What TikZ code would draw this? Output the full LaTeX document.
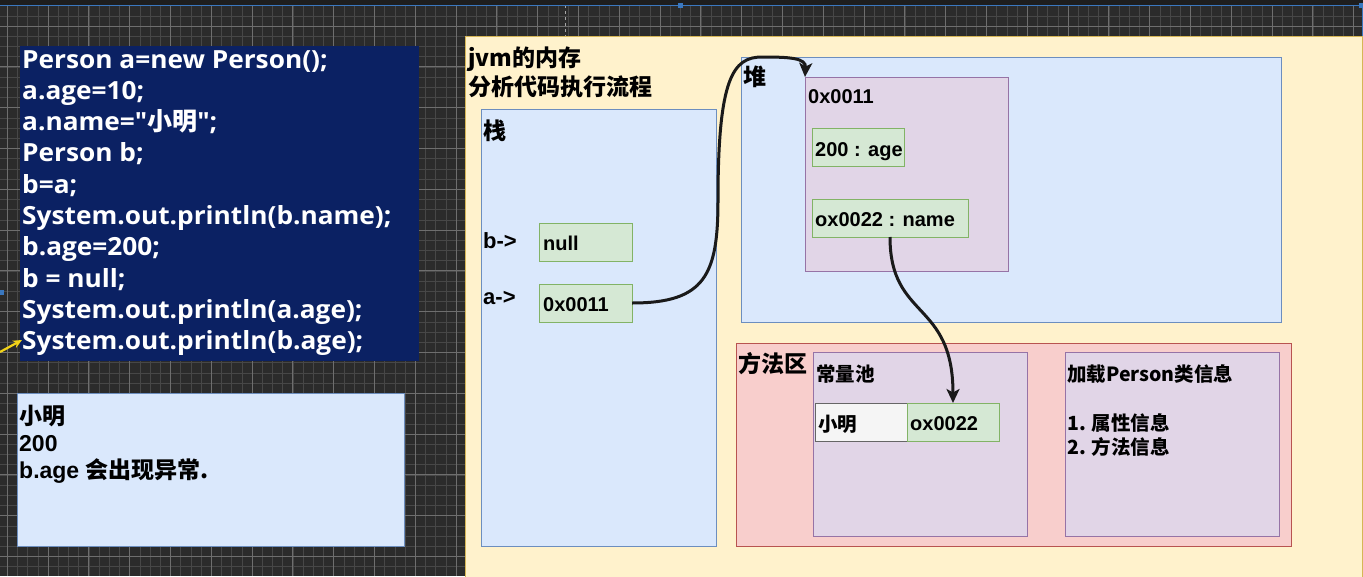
\documentclass[tikz,border=0pt]{standalone}
\usepackage{fontspec}
\setmainfont{Liberation Sans}
\newfontfamily\codefont{Open Sans}[FakeStretch=1.05]
\newfontfamily\cjk{Noto Sans CJK SC}
\usetikzlibrary{arrows.meta}
\definecolor{bgdark}{HTML}{2B2B2B}
\definecolor{topdark}{HTML}{1E1E1E}
\definecolor{gminorc}{HTML}{474747}
\definecolor{gmajorc}{HTML}{6E6E6E}
\definecolor{selblue}{HTML}{3A78C0}
\definecolor{codeblue}{HTML}{0B2163}
\definecolor{fyellow}{HTML}{FFF2CC}
\definecolor{syellow}{HTML}{D6B656}
\definecolor{fblue}{HTML}{DAE8FC}
\definecolor{sblue}{HTML}{6C8EBF}
\definecolor{fgreen}{HTML}{D5E8D4}
\definecolor{sgreen}{HTML}{82B366}
\definecolor{fpurple}{HTML}{E1D5E7}
\definecolor{spurple}{HTML}{9673A6}
\definecolor{fred}{HTML}{F8CECC}
\definecolor{sred}{HTML}{B85450}
\definecolor{fgray}{HTML}{F5F5F5}
\definecolor{sgray}{HTML}{666666}
\definecolor{inkc}{HTML}{1A1A1A}
\definecolor{cursorc}{HTML}{F2D318}
\tikzset{
  gminor/.style={draw=gminorc, line width=0.6pt},
  gmajor/.style={draw=gmajorc, line width=0.8pt},
  cell/.style={anchor=north west, inner sep=0pt, outer sep=0pt, line width=1pt},
  yellowbox/.style={cell, draw=syellow, fill=fyellow},
  bluebox/.style={cell, draw=sblue, fill=fblue},
  greenbox/.style={cell, draw=sgreen, fill=fgreen},
  purplebox/.style={cell, draw=spurple, fill=fpurple},
  redbox/.style={cell, draw=sred, fill=fred},
  graybox/.style={cell, draw=sgray, fill=fgray},
  codebox/.style={cell, fill=codeblue},
  txt/.style={anchor=base west, inner sep=0pt, text=black, font=\fontsize{20}{24}\selectfont\bfseries},
  txtbig/.style={txt, font=\fontsize{22}{26}\selectfont\bfseries},
  cjktxt/.style={txt, font=\cjk\fontsize{19.5}{24}\selectfont\bfseries},
  cjkbig/.style={txt, font=\cjk\fontsize{23}{27}\selectfont\bfseries},
  outtxt/.style={txt, font=\fontsize{23}{27}\selectfont\bfseries},
  codetxt/.style={anchor=base west, inner sep=0pt, text=white, font=\codefont\fontsize{25}{30}\selectfont\bfseries},
  link/.style={draw=inkc, line width=3pt, -{Stealth[length=14pt,width=13pt,inset=3.5pt]}},
  cursor/.style={draw=cursorc, line width=2.2pt, -{Stealth[length=9pt,width=8pt]}},
  handle/.style={fill=selblue, minimum size=5pt, inner sep=0pt, outer sep=0pt}
}
\begin{document}
\begin{tikzpicture}[x=1pt,y=-1pt]
\useasboundingbox (0,0) rectangle (1363,576);
\clip (0,0) rectangle (1363,576);
% canvas with grid
\fill[bgdark] (0,0) rectangle (1363,576);
\foreach \i in {0,...,134} \draw[gminor] ({7.2+\i*10.2},5) -- ({7.2+\i*10.2},576);
\foreach \j in {1,...,56} \draw[gminor] (0,{5.6+\j*10.2}) -- (1363,{5.6+\j*10.2});
\foreach \i in {0,...,33} \draw[gmajor] ({7.2+\i*40.8},5) -- ({7.2+\i*40.8},576);
\foreach \j in {0,...,13} \draw[gmajor] (0,{26+\j*40.8}) -- (1363,{26+\j*40.8});
\fill[topdark] (0,0) rectangle (1363,4.5);
\draw[draw=gray!70, dashed, line width=0.8pt] (565,5) -- (565,36);
% selection outline
\draw[selblue, line width=0.8pt] (0,5) -- (1362,5) -- (1362,576);
\node[handle] (h1) at (680,5) {};
\node[handle] (h2) at (1361,5) {};
\node[handle] (h3) at (1361,292) {};
\node[handle] (h4) at (1,292) {};
% code box
\node[codebox, minimum width=399, minimum height=315] (code) at (20,46) {};
\node[codetxt] (c0) at (22,68.0) {Person a=new Person();};
\node[codetxt] (c1) at (22,99.3) {a.age=10;};
\node[codetxt] (c2) at (22,130.6) {a.name="{\cjk 小明}";};
\node[codetxt] (c3) at (22,161.9) {Person b;};
\node[codetxt] (c4) at (22,193.2) {b=a;};
\node[codetxt] (c5) at (22,224.5) {System.out.println(b.name);};
\node[codetxt] (c6) at (22,255.8) {b.age=200;};
\node[codetxt] (c7) at (22,287.1) {b = null;};
\node[codetxt] (c8) at (22,318.4) {System.out.println(a.age);};
\node[codetxt] (c9) at (22,349.7) {System.out.println(b.age);};
\coordinate (cur0) at (0,352);
\coordinate (cur1) at (22,340);
\draw[cursor] (cur0) -- (cur1);
% output box
\node[bluebox, minimum width=387, minimum height=153] (out) at (17,393) {};
\node[outtxt, font=\cjk\fontsize{23}{27}\selectfont\bfseries] (o1) at (19,424) {小明};
\node[outtxt] (o2) at (19,451) {200};
\node[outtxt] (o3) at (19,478) {b.age {\cjk 会出现异常.}};
% jvm container
\node[yellowbox, minimum width=897, minimum height=600] (jvm) at (465,36) {};
\node[cjkbig] (t1) at (468,66) {jvm的内存};
\node[cjkbig] (t2) at (468,95) {分析代码执行流程};
% stack
\node[bluebox, minimum width=235, minimum height=437] (stack) at (481,109) {};
\node[cjkbig] (stacklbl) at (483,139) {栈};
\node[txtbig] (bptr) at (483,248) {b->};
\node[txtbig] (aptr) at (483,304) {a->};
\node[greenbox, minimum width=93, minimum height=38] (bcell) at (539,223) {};
\node[txt] (btxt) at (543,250) {null};
\node[greenbox, minimum width=93, minimum height=38] (acell) at (539,284) {};
\node[txt] (atxt) at (543,311) {0x0011};
% heap
\node[bluebox, minimum width=540, minimum height=265] (heap) at (741,57) {};
\node[cjkbig] (heaplbl) at (743,85) {堆};
\node[purplebox, minimum width=203, minimum height=194] (obj) at (805,77) {};
\node[txt] (objlbl) at (808,103) {0x0011};
\node[greenbox, minimum width=92, minimum height=38] (agecell) at (812,128) {};
\node[txt] (agetxt) at (815,156) {200 : age};
\node[greenbox, minimum width=156, minimum height=38] (namecell) at (812,199) {};
\node[txt] (nametxt) at (815,226) {ox0022 : name};
% method area
\node[redbox, minimum width=555, minimum height=203] (method) at (736,343) {};
\node[cjkbig] (methlbl) at (738,372) {方法区};
\node[purplebox, minimum width=214, minimum height=184] (pool) at (813,352) {};
\node[cjktxt] (poollbl) at (816,381) {常量池};
\node[graybox, minimum width=92, minimum height=38] (xmcell) at (815,403) {};
\node[cjktxt] (xmtxt) at (818,431) {小明};
\node[greenbox, minimum width=92, minimum height=38] (oxcell) at (907,403) {};
\node[txt] (oxtxt) at (910,430) {ox0022};
\node[purplebox, minimum width=214, minimum height=184] (load) at (1065,352) {};
\node[cjktxt] (loadlbl) at (1067,381) {加载Person类信息};
\node[cjktxt] (info1) at (1067,430) {1. 属性信息};
\node[cjktxt] (info2) at (1067,454) {2. 方法信息};
% connectors
\coordinate (w1) at (718,200);
\coordinate (w2) at (762,57);
\draw[link] (acell.east) .. controls (705,303) and (718,275) .. (w1)
  .. controls (718,78) and (733,57) .. (w2)
  .. controls (790,57) and (806,58) .. (obj.north west);
\draw[link] (namecell.south) .. controls (890,320) and (953,300) .. (oxcell.north);
\end{tikzpicture}
\end{document}
